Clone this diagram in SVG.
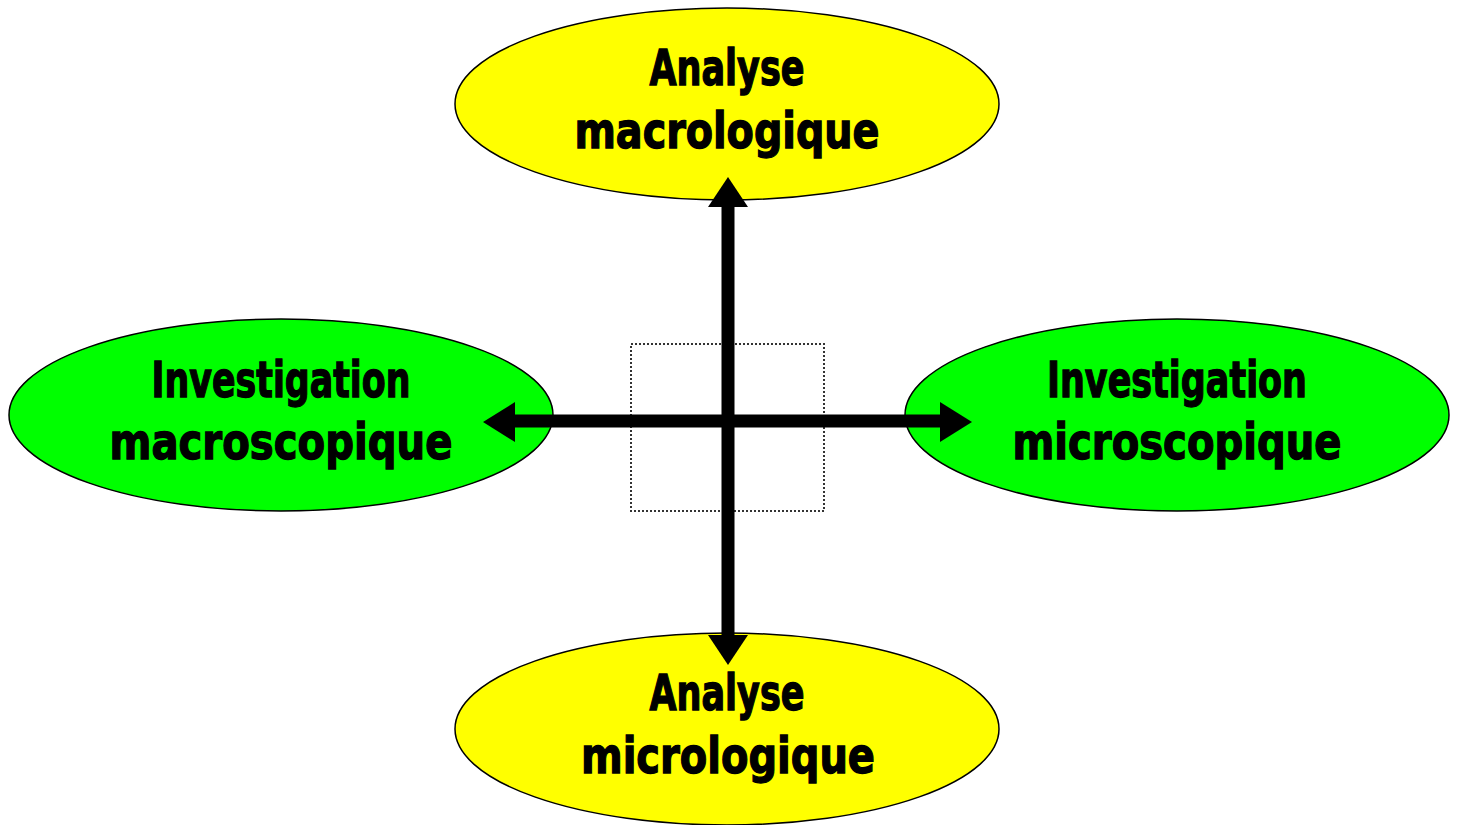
<svg xmlns="http://www.w3.org/2000/svg" width="1459" height="825" viewBox="0 0 1459 825">
<style>
.yel{fill:#ffff00;stroke:#000;stroke-width:1.5}
.grn{fill:#00ff00;stroke:#000;stroke-width:1.5}
.t{font-family:"DejaVu Sans Condensed","DejaVu Sans","Liberation Sans",sans-serif;font-stretch:condensed;font-weight:bold;font-size:50px;fill:#000;stroke:#000;stroke-width:1.3;text-anchor:middle}
.ln{stroke:#000;stroke-width:13;fill:none}
.hd{fill:#000}
</style>
<rect width="1459" height="825" fill="#fff"/>
<g id="frame">
<rect x="631" y="344" width="193" height="167" fill="none" stroke="#333" stroke-width="2" stroke-dasharray="2,2"/>
</g>
<g id="top">
<ellipse class="yel" cx="727" cy="104" rx="272" ry="96"/>
<text class="t" x="727" y="85" textLength="155" lengthAdjust="spacingAndGlyphs">Analyse</text>
<text class="t" x="727" y="148" textLength="305" lengthAdjust="spacingAndGlyphs">macrologique</text>
</g>
<g id="bottom">
<ellipse class="yel" cx="727" cy="729" rx="272" ry="96"/>
<text class="t" x="727" y="710" textLength="155" lengthAdjust="spacingAndGlyphs">Analyse</text>
<text class="t" x="728" y="773" textLength="294" lengthAdjust="spacingAndGlyphs">micrologique</text>
</g>
<g id="left">
<ellipse class="grn" cx="281" cy="415" rx="272" ry="96"/>
<text class="t" x="281" y="397" textLength="259" lengthAdjust="spacingAndGlyphs">Investigation</text>
<text class="t" x="281" y="459" textLength="343" lengthAdjust="spacingAndGlyphs">macroscopique</text>
</g>
<g id="right">
<ellipse class="grn" cx="1177" cy="415" rx="272" ry="96"/>
<text class="t" x="1177" y="397" textLength="260" lengthAdjust="spacingAndGlyphs">Investigation</text>
<text class="t" x="1177" y="459" textLength="329" lengthAdjust="spacingAndGlyphs">microscopique</text>
</g>
<g id="connectors">
<line class="ln" x1="728" y1="205" x2="728" y2="637"/>
<polygon class="hd" points="728,177 748,207 708,207"/>
<polygon class="hd" points="728,665 748,635 708,635"/>
<line class="ln" x1="513" y1="421" x2="942" y2="421"/>
<polygon class="hd" points="483,422 515,402 515,442"/>
<polygon class="hd" points="972,422 940,402 940,442"/>
</g>
</svg>
